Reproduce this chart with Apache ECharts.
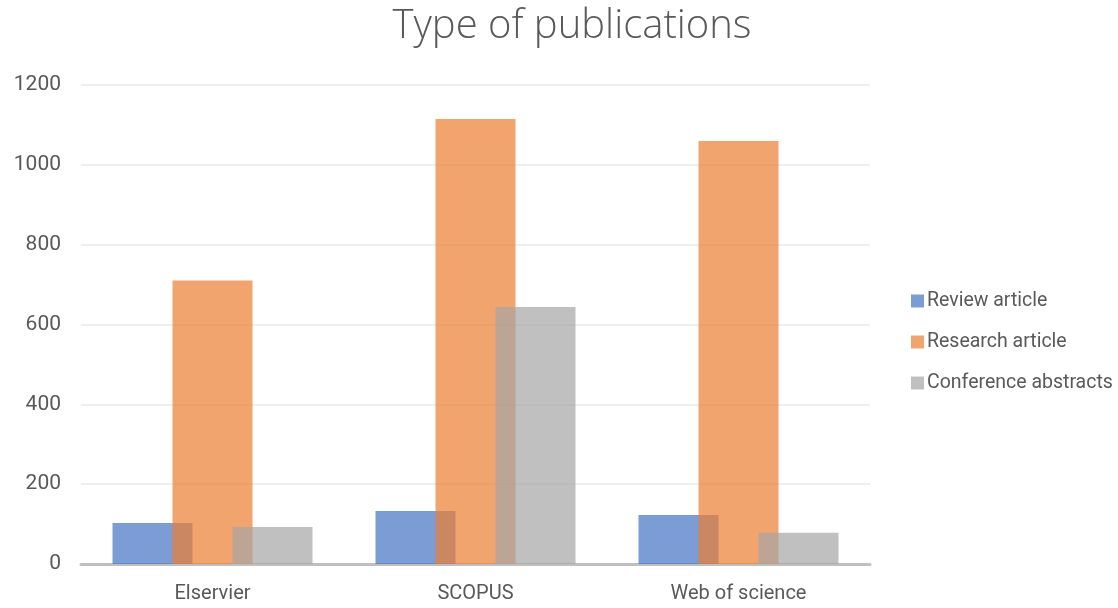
<!DOCTYPE html>
<html>
<head>
<meta charset="utf-8">
<script src="https://cdn.jsdelivr.net/npm/echarts@6/dist/echarts.min.js"></script>
<style>
  html, body { margin: 0; padding: 0; background: #fff; }
  #chart { width: 1118px; height: 608px; }
</style>
</head>
<body>
<div id="chart"></div>
<script>
// Publication counts per database
const categories = ['Elservier', 'SCOPUS', 'Web of science'];
const reviewArticle = [103, 133, 123];
const researchArticle = [710, 1115, 1060];
const conferenceAbstracts = [93, 644, 78];
const yTicks = [0, 200, 400, 600, 800, 1000, 1200];

const FONT = 'Roboto, "Open Sans", sans-serif';
const TEXT = '#595959';

const chart = echarts.init(document.getElementById('chart'));

function barSeries(name, data, color) {
  return {
    name: name,
    type: 'bar',
    data: data,
    barWidth: 80,
    barGap: '-25%',
    itemStyle: { color: color, opacity: 0.7 }
  };
}

chart.setOption({
  animation: false,
  title: {
    text: 'Type of publications',
    left: 567,
    textAlign: 'center',
    top: 2,
    textStyle: { fontFamily: '"Open Sans", sans-serif', fontSize: 40, fontWeight: 300, color: TEXT }
  },
  legend: {
    orient: 'vertical',
    left: 906,
    top: 286,
    itemWidth: 13,
    itemHeight: 13,
    itemGap: 21,
    icon: 'rect',
    textStyle: { fontFamily: FONT, fontSize: 19.5, color: TEXT, padding: [0, 0, 0, -2] },
    data: ['Review article', 'Research article', 'Conference abstracts']
  },
  grid: { left: 81, top: 85, width: 789, height: 479 },
  xAxis: {
    type: 'category',
    data: categories,
    axisTick: { show: false },
    axisLine: { lineStyle: { color: '#BFBFBF', width: 3 } },
    axisLabel: { fontFamily: FONT, fontSize: 20, color: TEXT, margin: 20 }
  },
  yAxis: {
    type: 'value',
    min: yTicks[0],
    max: yTicks[yTicks.length - 1],
    interval: 200,
    axisLine: { show: false },
    axisTick: { show: false },
    splitLine: { lineStyle: { color: '#EFEFEF', width: 2 } },
    axisLabel: { fontFamily: FONT, fontSize: 21, color: TEXT, margin: 20, formatter: v => String(v) }
  },
  series: [
    barSeries('Review article', reviewArticle, '#4472C4'),
    barSeries('Research article', researchArticle, '#ED7D31'),
    barSeries('Conference abstracts', conferenceAbstracts, '#A5A5A5')
  ]
});
</script>
</body>
</html>
